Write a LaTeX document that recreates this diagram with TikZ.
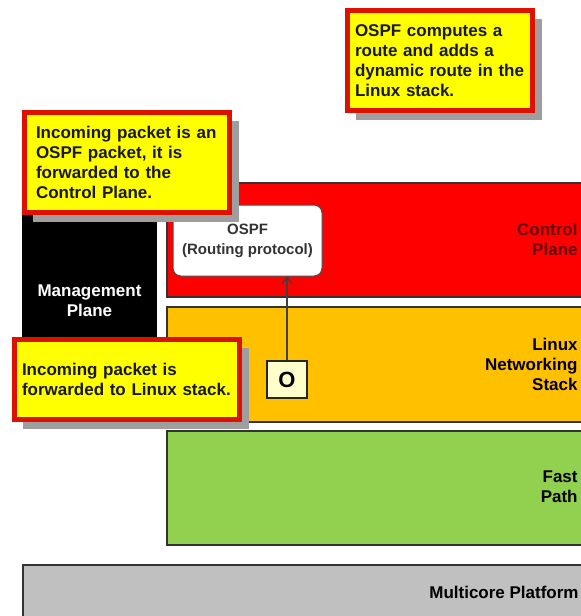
\documentclass[tikz,border=0pt]{standalone}
\usepackage{fontspec}
\setmainfont{Liberation Sans}
\usetikzlibrary{shadows,arrows.meta}

\definecolor{ctrlred}{HTML}{FF0000}
\definecolor{ctrltext}{HTML}{6A0000}
\definecolor{linuxorange}{HTML}{FFC000}
\definecolor{fastgreen}{HTML}{92D050}
\definecolor{platgrey}{HTML}{C0C0C0}
\definecolor{noteyellow}{HTML}{FFFF00}
\definecolor{notered}{HTML}{DD1100}
\definecolor{oboxyellow}{HTML}{FFFFCC}

\newcommand{\notefont}{\fontsize{8.5}{10}\selectfont\bfseries}

\tikzset{
  layer/.style={draw=black!80, line width=0.8pt},
  layerlabel/.style={anchor=east, align=right, inner sep=0pt, font=\notefont},
  note/.style={draw=notered, fill=noteyellow, line width=2.4pt, anchor=north west,
    align=left, text=black!90, font=\notefont, inner ysep=2pt,
    drop shadow={shadow xshift=4.5pt, shadow yshift=-4.5pt, fill=black!38, opacity=1}},
  protobox/.style={draw=black!70, fill=white, line width=0.5pt, rounded corners=4pt,
    minimum width=74.5pt, minimum height=35.5pt, align=center, text=black!80,
    font=\fontsize{7.5}{10}\selectfont\bfseries},
  pktbox/.style={draw=black!85, fill=oboxyellow, line width=0.6pt,
    minimum width=20pt, minimum height=18.5pt, inner sep=0pt,
    font=\fontsize{11}{12}\selectfont\bfseries}
}

\begin{document}
\begin{tikzpicture}[x=0.5pt,y=-0.5pt]
  \useasboundingbox (0,0) rectangle (581,616);
  \clip (0,0) rectangle (581,616);

  % The layers
  % Control plane
  \filldraw [layer,fill=ctrlred] (167,183) rectangle (600,297);
  \node [layerlabel,text=ctrltext] (ctrllabel) at (578,239) {Control\\Plane};
  % Linux networking stack
  \filldraw [layer,fill=linuxorange] (167,307) rectangle (600,422);
  \node [layerlabel] (linuxlabel) at (578,364) {Linux\\Networking\\Stack};
  % Fast path
  \filldraw [layer,fill=fastgreen] (167,431) rectangle (600,545);
  \node [layerlabel] (fastlabel) at (578,487) {Fast\\Path};
  % Multicore platform
  \filldraw [layer,fill=platgrey] (23,565) rectangle (600,640);
  \node [layerlabel] (platlabel) at (579,592) {Multicore Platform};

  % Management plane
  \fill [black] (22,183) rectangle (157,422);
  \node [layerlabel,anchor=center,align=center,text=white] (mgmtlabel) at (89.5,301) {Management\\Plane};

  % OSPF and the incoming packet
  \node [protobox] (ospf) at (247.5,240.5) {OSPF\\(Routing protocol)};
  \node [pktbox] (pkt) at (287,379.5) {O};
  \draw [-{Straight Barb[length=3pt,width=5pt]},black!75,line width=0.6pt]
    (pkt.north) -- (pkt.north |- ospf.south);

  % Callouts
  % Route added
  \node [note,minimum width=92.6pt,minimum height=50.1pt,inner xsep=3.8pt,text width=85pt]
    (noteroute) at (345,8)
    {OSPF computes a\\route and adds a\\dynamic route in the\\Linux stack.};
  % Packet to control plane
  \node [note,minimum width=102.6pt,minimum height=50.1pt,inner xsep=5.8pt,text width=91pt]
    (notectrl) at (22,110)
    {Incoming packet is an\\OSPF packet, it is\\forwarded to the\\Control Plane.};
  % Packet to Linux stack
  \node [note,minimum width=112.6pt,minimum height=40.1pt,inner xsep=3.8pt,text width=105pt]
    (notelinux) at (12,337)
    {Incoming packet is\\forwarded to Linux stack.};
\end{tikzpicture}
\end{document}
